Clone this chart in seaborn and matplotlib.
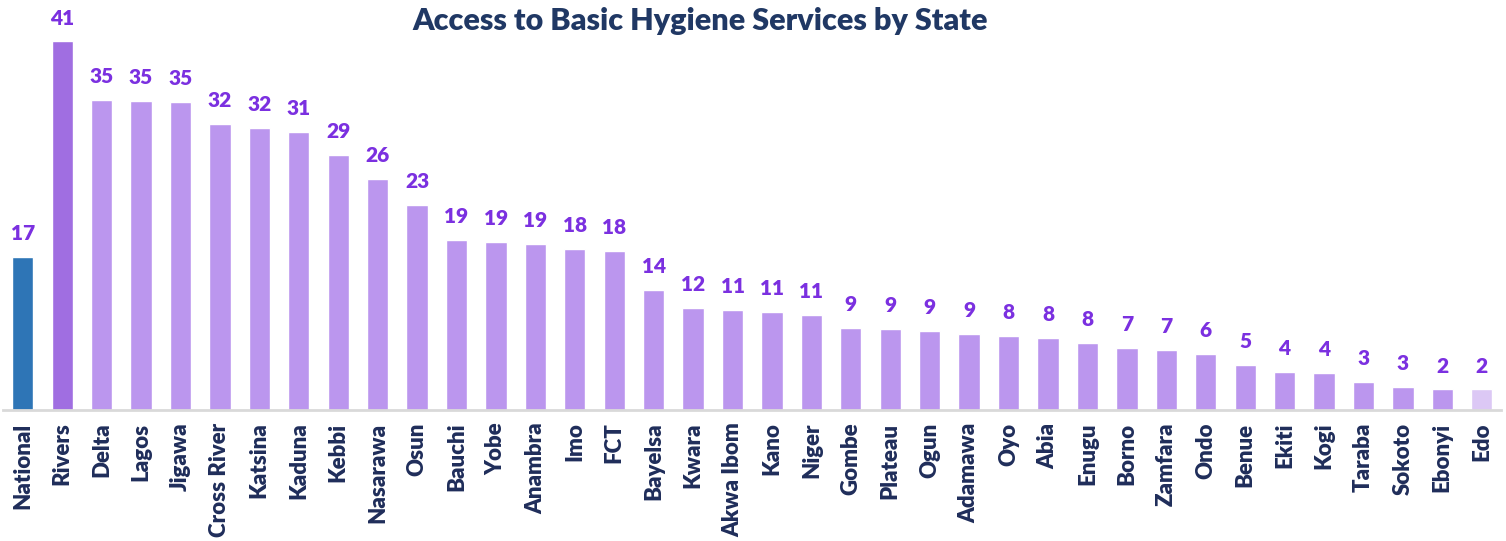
import matplotlib
matplotlib.use("Agg")
import matplotlib.pyplot as plt
import seaborn as sns
import pandas as pd

states = ["National", "Rivers", "Delta", "Lagos", "Jigawa", "Cross River", "Katsina", "Kaduna",
          "Kebbi", "Nasarawa", "Osun", "Bauchi", "Yobe", "Anambra", "Imo", "FCT", "Bayelsa",
          "Kwara", "Akwa Ibom", "Kano", "Niger", "Gombe", "Plateau", "Ogun", "Adamawa", "Oyo",
          "Abia", "Enugu", "Borno", "Zamfara", "Ondo", "Benue", "Ekiti", "Kogi", "Taraba",
          "Sokoto", "Ebonyi", "Edo"]
values = [17.0, 41.0, 34.5, 34.4, 34.3, 31.8, 31.4, 30.9, 28.4, 25.7, 22.8, 18.9, 18.7, 18.5,
          17.9, 17.7, 13.4, 11.4, 11.1, 10.9, 10.6, 9.1, 9.0, 8.8, 8.5, 8.2, 8.0, 7.5, 6.9, 6.7,
          6.2, 5.0, 4.2, 4.1, 3.1, 2.6, 2.3, 2.3]
labels = [17, 41, 35, 35, 35, 32, 32, 31, 29, 26, 23, 19, 19, 19, 18, 18, 14, 12, 11, 11, 11,
          9, 9, 9, 9, 8, 8, 8, 7, 7, 6, 5, 4, 4, 3, 3, 2, 2]

palette = ["#2E75B6", "#A06EE1"] + ["#BB96EE"] * 35 + ["#DCC8F5"]

df = pd.DataFrame({"state": states, "value": values})

sns.set_theme(style="white")
plt.rcParams["font.family"] = ["Lato", "DejaVu Sans"]

fig = plt.figure(figsize=(15.06, 5.41), dpi=100)
ax = fig.add_axes([0.002, 0.242, 0.995, 0.703])
sns.barplot(data=df, x="state", y="value", hue="state", palette=palette, legend=False,
            width=0.54, ax=ax, saturation=1)

ax.set_ylim(0, 42.3)
ax.set_xlim(-0.5, len(states) - 0.5)
for i, (v, lab) in enumerate(zip(values, labels)):
    ax.annotate(str(lab), (i, v), xytext=(0, 10), textcoords="offset points",
                ha="center", va="bottom", fontsize=15, fontweight="heavy", color="#7B30E0")

ax.set_xlabel("")
ax.set_ylabel("")
ax.set_yticks([])
ax.tick_params(axis="x", length=0, pad=9)
for t in ax.get_xticklabels():
    t.set_rotation(90)
    t.set_fontsize(16)
    t.set_fontweight("heavy")
    t.set_color("#1F2D5A")
    t.set_va("top")
    t.set_ha("center")
for s in ["top", "right", "left"]:
    ax.spines[s].set_visible(False)
ax.spines["bottom"].set_color("#D9D9D9")
ax.spines["bottom"].set_linewidth(2)

fig.text(0.465, 0.962, "Access to Basic Hygiene Services by State", ha="center", va="center",
         fontsize=22, fontweight="heavy", color="#203864")

fig.savefig("out.png", dpi=100)
